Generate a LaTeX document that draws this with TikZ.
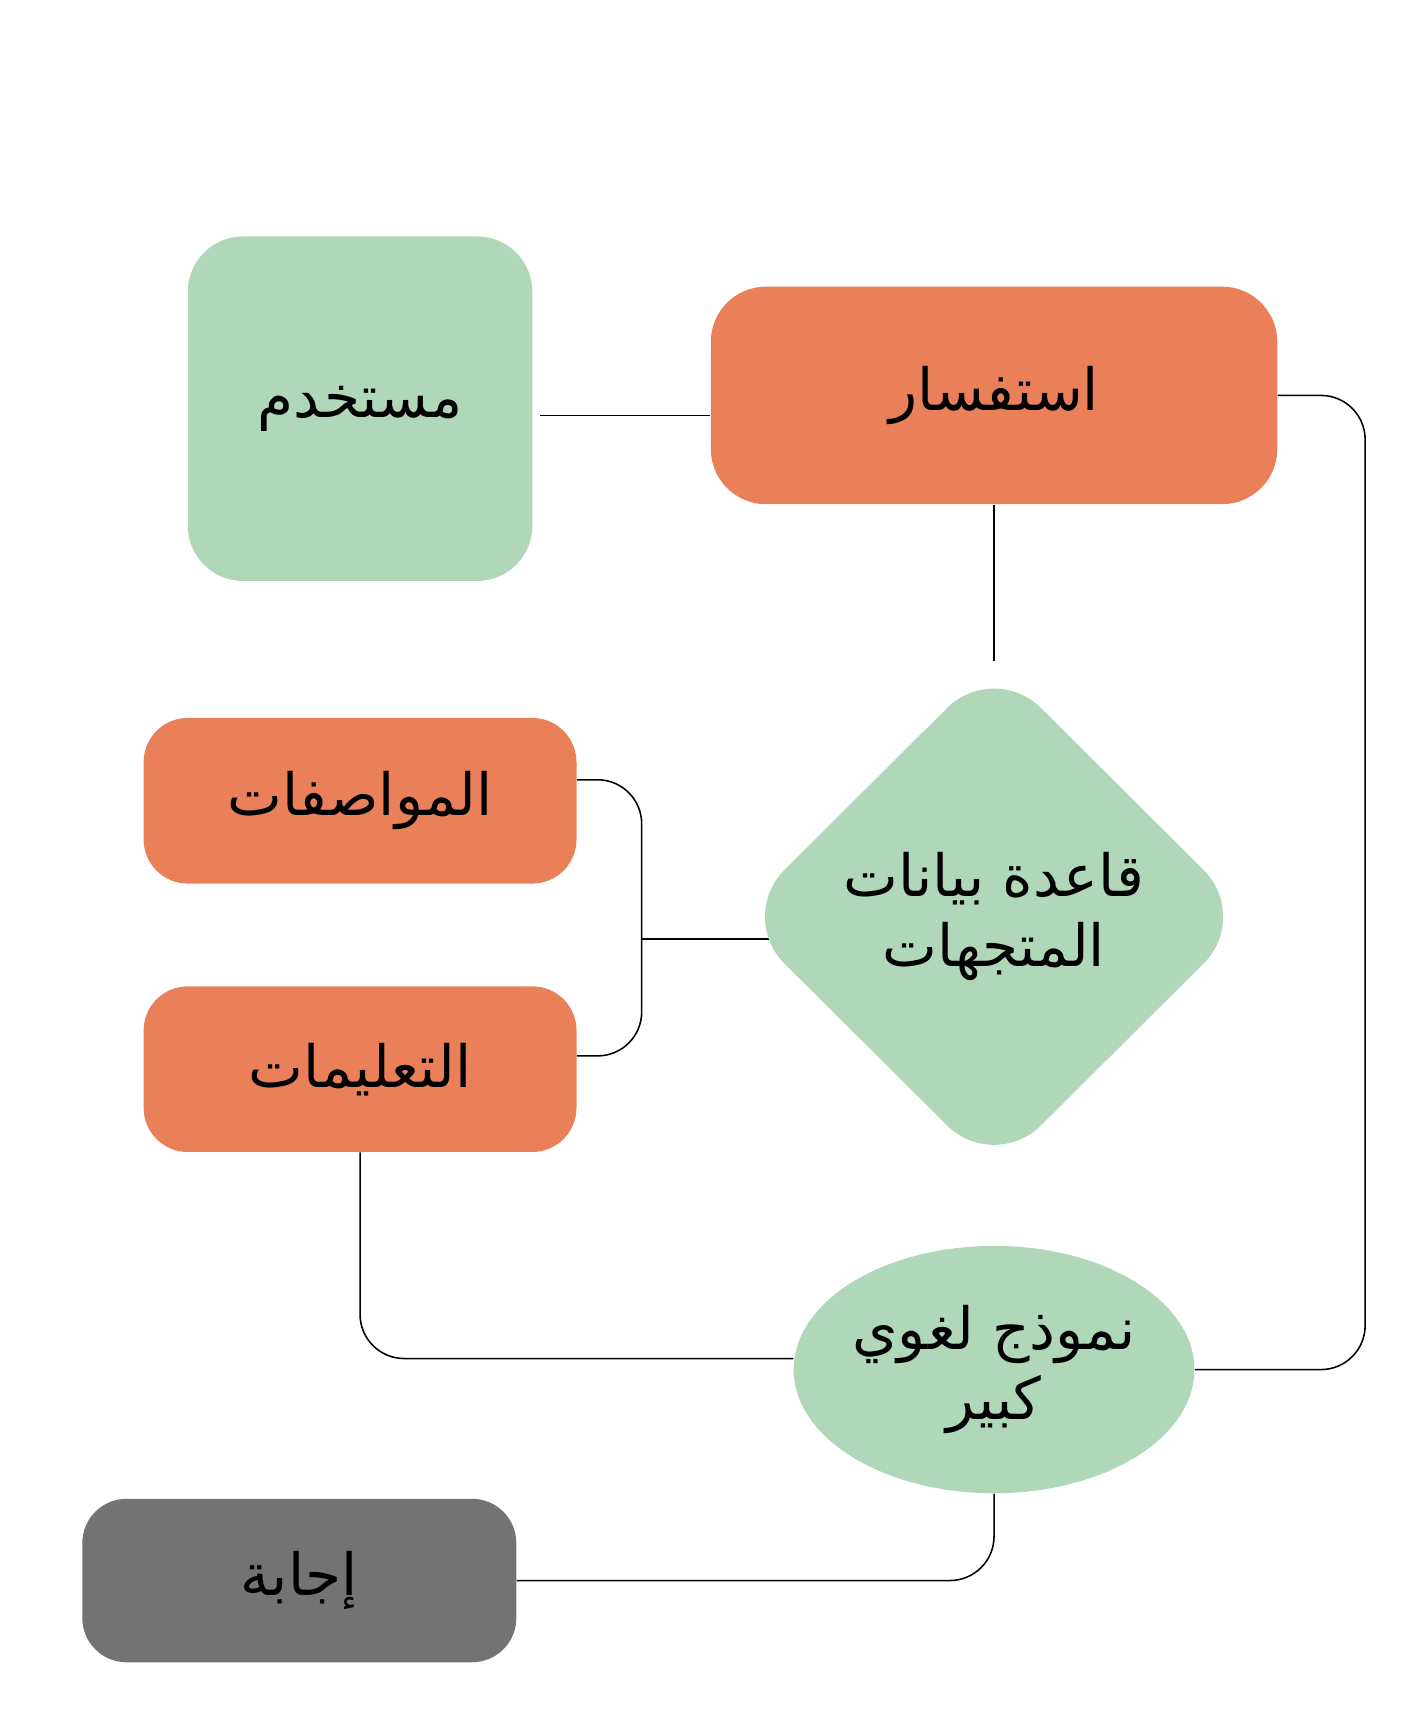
\documentclass[tikz,border=0pt]{standalone}
\usepackage{fontspec}
\newfontfamily\arabicfont[Script=Arabic]{DejaVu Sans}
\TeXXeTstate=1
\usetikzlibrary{shapes.geometric,backgrounds}
\definecolor{softgreen}{HTML}{B0D8B8}
\definecolor{softorange}{HTML}{E9805A}
\definecolor{darkgray}{HTML}{737373}
\begin{document}
\begin{tikzpicture}[x=0.02cm, y=-0.02cm, font=\arabicfont\fontsize{30}{40}\selectfont]
% Styles
\tikzstyle{box} = [rectangle, rounded corners=1cm, align=center, inner sep=0pt]
\tikzstyle{line} = [black, line width=0.8pt, rounded corners=0.8cm]

\useasboundingbox (0,0) rectangle (1280,1560);

% Nodes
\node (user) [box, fill=softgreen, minimum width=6.24cm, minimum height=6.24cm] at (326,370) {\beginR مستخدم\endR};
\node (query) [box, fill=softorange, minimum width=10.26cm, minimum height=3.94cm] at (900,358) {\beginR استفسار\endR};
\node (specs) [box, fill=softorange, minimum width=7.84cm, minimum height=3cm, rounded corners=0.8cm] at (326,725) {\beginR المواصفات\endR};
\node (instr) [box, fill=softorange, minimum width=7.84cm, minimum height=3cm, rounded corners=0.8cm] at (326,968) {\beginR التعليمات\endR};
\node (vecdb) [diamond, fill=softgreen, rounded corners=1.2cm, minimum width=9.3cm, minimum height=9.26cm, inner sep=0pt, align=center] at (900,830) {\beginR قاعدة بيانات\endR\\[-4pt]\beginR المتجهات\endR};
\node (llm) [ellipse, fill=softgreen, minimum width=6.62cm, minimum height=4.48cm, inner sep=0pt, align=center] at (900,1240) {\beginR نموذج لغوي\endR\\[-4pt]\beginR كبير\endR};
\node (answer) [box, fill=darkgray, minimum width=7.86cm, minimum height=2.96cm, rounded corners=0.8cm] at (271,1431) {\beginR إجابة\endR};
\coordinate (join) at (581,850);

% Lines
\begin{scope}[on background layer]
\draw [line] (489,376) -- (query.west |- 0,376);
\draw [line] (query.south) -- (vecdb.north);
\draw [line] (query.east) -| (1236,1240) -- (llm.east);
\draw [line] (specs.east |- 0,706) -| (join) |- (instr.east |- 0,956);
\draw [line] (join) -- (700,850);
\draw [line] (instr.south) |- (llm.west |- 0,1230);
\draw [line] (llm.south) |- (answer.east);
\end{scope}
\end{tikzpicture}
\end{document}
